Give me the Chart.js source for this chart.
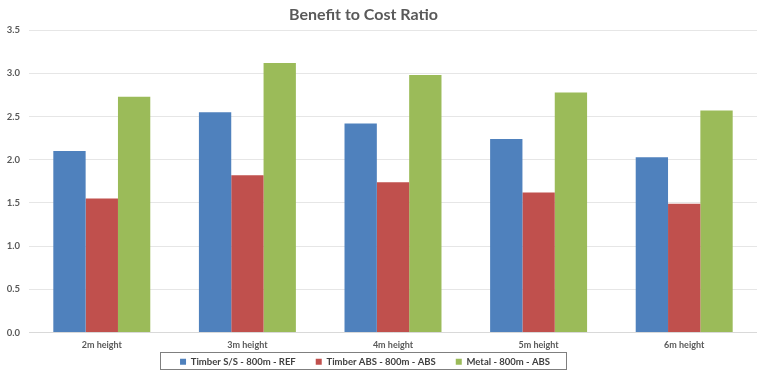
<!DOCTYPE html>
<html>
<head>
<meta charset="utf-8">
<script src="https://cdn.jsdelivr.net/npm/chart.js@4/dist/chart.umd.min.js"></script>
<style>
	html, body { margin: 0; padding: 0; background: #fff; }
	#wrap { width: 757px; height: 372px; position: relative; }
</style>
</head>
<body>
<div id="wrap"><canvas id="ratioChart"></canvas></div>
<script>
// Data
const categories = ['2m height', '3m height', '4m height', '5m height', '6m height'];
const timberSS   = [2.10, 2.55, 2.42, 2.24, 2.03];
const timberABS  = [1.55, 1.82, 1.74, 1.62, 1.49];
const metalABS   = [2.73, 3.12, 2.98, 2.78, 2.57];
const seriesNames = ['Timber S/S - 800m - REF', 'Timber ABS - 800m - ABS', 'Metal - 800m - ABS'];

const FONT = 'Lato, "Open Sans", sans-serif';
const TEXT = '#595959';
const colors = ['#4f81bd', '#c0504d', '#9bbb59'];

// Nudge title and legend to where the original has them,
// and draw the thin frame round the legend
const legendFrame = {
	id: 'legendFrame',
	afterLayout(chart) {
		const lg = chart.legend;
		chart.titleBlock.left -= 15;
		chart.titleBlock.right -= 15;
		lg.left -= 13.5;
		lg.right -= 13.5;
		// legend item centre should sit at y=362
		const pad = lg.options.labels.padding;
		const dy = 362 - (lg.top + pad + 5);
		lg.top += dy;
		lg.bottom += dy;
	},
	afterDraw(chart) {
		const boxes = chart.legend.legendHitBoxes;
		if (!boxes || !boxes.length) return;
		const first = boxes[0], last = boxes[boxes.length - 1];
		const cy = first.top + first.height / 2;
		const ctx = chart.ctx;
		ctx.save();
		ctx.strokeStyle = '#7f7f7f';
		ctx.lineWidth = 1;
		const x0 = Math.round(first.left - 20) + 0.5;
		const x1 = Math.round(last.left + last.width + 16) + 0.5;
		const y0 = Math.round(cy - 9.5) + 0.5;
		const y1 = Math.round(cy + 7.5) + 0.5;
		ctx.strokeRect(x0, y0, x1 - x0, y1 - y0);
		ctx.restore();
	}
};

new Chart(document.getElementById('ratioChart'), {
	type: 'bar',
	data: {
		labels: categories,
		datasets: [timberSS, timberABS, metalABS].map((vals, i) => ({
			label: seriesNames[i],
			data: vals,
			backgroundColor: colors[i],
			borderWidth: 0,
			categoryPercentage: 0.666,
			barPercentage: 1.0,
		})),
	},
	options: {
		responsive: true,
		maintainAspectRatio: false,
		animation: false,
		layout: { padding: { top: 0, left: 0, right: 0, bottom: -18 } },
		plugins: {
			title: {
				display: true,
				text: 'Benefit to Cost Ratio',
				color: TEXT,
				font: { family: FONT, size: 16, weight: 'bold' },
				padding: { top: 5, bottom: 6 },
			},
			legend: {
				position: 'bottom',
				labels: {
					color: '#404040',
					font: { family: FONT, size: 9.5, weight: 'bold' },
					boxWidth: 6,
					boxHeight: 6,
					padding: 20,
				},
			},
			tooltip: { enabled: false },
		},
		scales: {
			x: {
				afterFit: s => { s.height = 18; },
				grid: { display: false, drawTicks: false },
				border: { display: true, color: '#d9d9d9' },
				ticks: { color: TEXT, font: { family: FONT, size: 9, weight: 'bold' }, padding: 7 },
			},
			y: {
				min: 0,
				max: 3.5,
				afterFit: s => { s.width = 29; },
				grid: { color: '#e6e6e6', drawTicks: false },
				border: { display: false },
				ticks: {
					stepSize: 0.5,
					padding: 9,
					color: TEXT,
					font: { family: FONT, size: 9.5, weight: 'bold' },
					callback: v => v.toFixed(1),
				},
			},
		},
	},
	plugins: [legendFrame],
});
</script>
</body>
</html>
